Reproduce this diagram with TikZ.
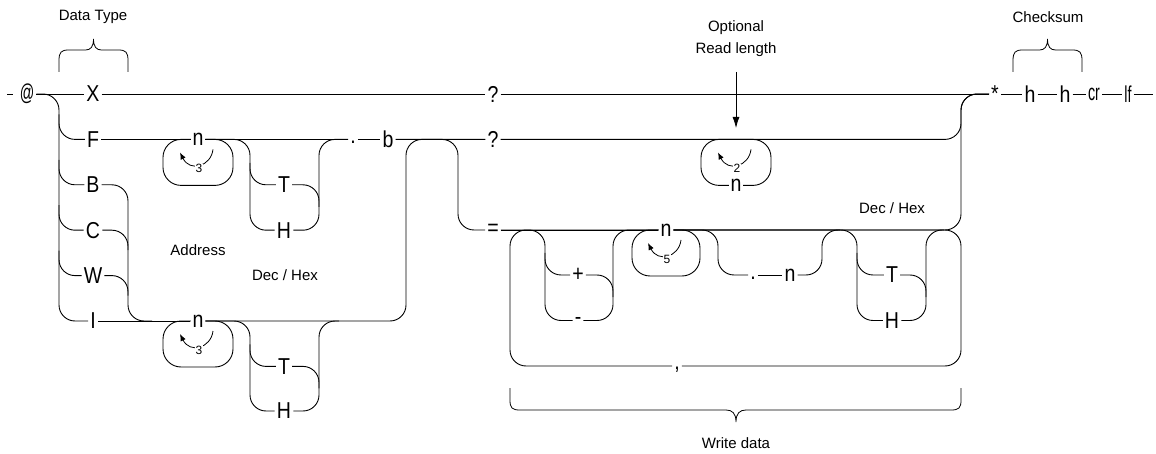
\documentclass[tikz,border=0pt]{standalone}
\usepackage{fontspec}
\setmainfont{Liberation Sans}
\newfontfamily\railfont[FakeStretch=0.85]{Liberation Sans}
\newfontfamily\railnarrow[FakeStretch=0.62]{Liberation Sans}
\usetikzlibrary{arrows.meta,calc}

% repeat arrow drawn inside a loop: centre x, top y, count, node name
\newcommand\reparrow[4]{%
  \draw[rep] (#1+15,#2+10) .. controls (#1+13,#2+27) and (#1-8,#2+33) .. (#1-18,#2+13);
  \node[cnt] (#4) at (#1+1,#2+29) {#3};}
% curly brace opening downwards: left x, right x, bottom y
\newcommand\topbrace[3]{%
  \draw[brace] (#1,#3) -- (#1,#3-11) .. controls (#1,#3-20) and (#1+2,#3-22) .. (#1+10,#3-22)
    -- ({(#1+#2)/2-8},#3-22) .. controls ({(#1+#2)/2-3},#3-22) and ({(#1+#2)/2},#3-25) .. ({(#1+#2)/2},#3-33)
    .. controls ({(#1+#2)/2},#3-25) and ({(#1+#2)/2+3},#3-22) .. ({(#1+#2)/2+8},#3-22)
    -- (#2-10,#3-22) .. controls (#2-2,#3-22) and (#2,#3-20) .. (#2,#3-11) -- (#2,#3);}

\begin{document}
\begin{tikzpicture}[x=1pt,y=-1pt,
  track/.style={line width=0.9pt, rounded corners=16pt},
  loopbox/.style={line width=0.9pt, rounded corners=18pt},
  term/.style={font=\railfont\fontsize{23}{25}\selectfont, fill=white, inner sep=2pt},
  narrow/.style={font=\railnarrow\fontsize{23}{25}\selectfont},
  low/.style={text height=9pt},
  note/.style={font=\fontsize{15}{22}\selectfont, inner sep=1pt, align=center},
  rep/.style={line width=0.8pt, -{Latex[length=7pt,width=5.5pt]}},
  cnt/.style={font=\fontsize{12}{13}\selectfont, fill=white, inner sep=0.6pt},
  brace/.style={line width=0.8pt},
]
\useasboundingbox (0,0) rectangle (1156,454);

% vertical track positions
\coordinate (lv) at (59,0);   \coordinate (rv) at (128,0);
\coordinate (a1) at (250,0);  \coordinate (a2) at (319,0);
\coordinate (c406) at (406,0); \coordinate (c458) at (458,0);
\coordinate (c510) at (510,0); \coordinate (c545) at (545,0);
\coordinate (c613) at (613,0); \coordinate (c718) at (718,0);
\coordinate (c822) at (822,0); \coordinate (c857) at (857,0);
\coordinate (c926) at (926,0); \coordinate (c961) at (961,0);

% loops (drawn first so the terminals cover them)
\draw[loopbox] (163,139.4) rectangle (233,185.4);
\draw[loopbox] (163,321) rectangle (233,367);
\draw[loopbox] (632,230) rectangle (700,276);
\draw[loopbox] (701,139.4) rectangle (771,185.4);
\reparrow{198}{139.4}{3}{kA}
\reparrow{198}{321}{3}{kB}
\reparrow{666}{230}{5}{kC}
\reparrow{736}{139.4}{2}{kR}

% terminals
\node[term,narrow] (at) at (27,94) {@};
\node[term] (X) at (93,94) {X};
\node[term] (F) at (93,139.4) {F};
\node[term] (B) at (93,184.8) {B};
\node[term] (C) at (93,230.2) {C};
\node[term] (W) at (93,275.6) {W};
\node[term] (I) at (93,321) {I};
\node[term] (nA) at (198,139.4) {n};
\node[term] (nB) at (198,321) {n};
\node[term] (TA) at (284,184.8) {T};
\node[term] (HA) at (284,230.2) {H};
\node[term] (TB) at (284,366.4) {T};
\node[term] (HB) at (284,411) {H};
\node[term,low] (dot) at (353,139.4) {.};
\node[term] (b) at (388,139.4) {b};
\node[term] (q1) at (493,94) {?};
\node[term] (q2) at (493,139.4) {?};
\node[term] (eq) at (493,230) {=};
\node[term] (nR) at (736,185.4) {n};
\node[term] (plus) at (578,275) {+};
\node[term] (minus) at (578,320.5) {-};
\node[term] (nC) at (666,230) {n};
\node[term,low] (dot2) at (753,275) {.};
\node[term] (n2) at (790,275) {n};
\node[term] (TC) at (892,275) {T};
\node[term] (HC) at (892,320.5) {H};
\node[term,low] (comma) at (677,366) {,};
\node[term] (star) at (995,94) {*};
\node[term] (h1) at (1030,94) {h};
\node[term] (h2) at (1065,94) {h};
\node[term,narrow] (cr) at (1094,94) {cr};
\node[term,narrow] (lf) at (1128,94) {lf};
\coordinate (s0) at (7,94); \coordinate (s1) at (13,94);
\coordinate (fin) at (1153,94);

% top line
\draw[track] (s0) -- (s1);
\draw[track] (at) -- (X);
\draw[track] (X) -- (q1);
\draw[track] (q1) -- (star);
\draw[track] (star) -- (h1);
\draw[track] (h1) -- (h2);
\draw[track] (h2) -- (cr);
\draw[track] (cr) -- (lf);
\draw[track] (lf) -- (fin);

% data type choice
\draw[track] (at.east) -| (lv |- I) -- (I);
\foreach \t in {F,B,C,W}
  \draw[track] ($(lv |- \t)+(0,-25)$) |- (\t);
\draw[track] (B.east) -| (rv |- I) -- ++(24,0);
\draw[track] (C.east) -| ($(rv |- C)+(0,20)$);
\draw[track] (W.east) -| ($(rv |- W)+(0,20)$);

% address on the F row
\draw[track] (F) -- (nA);
\draw[track] (nA) -- (dot);
\draw[track] (dot) -- (b);
\draw[track] (nA.east) -| (a1 |- HA) -- (HA);
\draw[track] ($(a1 |- TA)+(0,-22)$) |- (TA);
\draw[track] (HA.east) -| (a2 |- nA) -- (dot);
\draw[track] (TA.east) -| ($(a2 |- TA)+(0,22)$);

% address on the I row
\draw[track] (I) -- (nB);
\draw[track] (nB.east) -| (a1 |- HB) -- (HB);
\draw[track] ($(a1 |- TB)+(0,-22)$) |- (TB);
\draw[track] (HB.east) -| (a2 |- nB) -- ($(a2 |- nB)+(20,0)$);
\draw[track] (TB.east) -| ($(a2 |- TB)+(0,22)$);
\draw[track] (nB.east) -| (c406 |- b) -- (q2);

% read or write
\draw[track] (b) -- (q2);
\draw[track] (b.east) -| (c458 |- eq) -- (eq);
\draw[track] (q2.east) -| (c961 |- star) -- (star);

% write data
\draw[track] (eq) -- (nC);
\draw[track] (eq.east) -| (c545 |- minus) -- (minus);
\draw[track] ($(c545 |- plus)+(0,-22)$) |- (plus);
\draw[track] (minus.east) -| (c613 |- eq) -- (nC);
\draw[track] (plus.east) -| ($(c613 |- plus)+(0,22)$);
\draw[track] (nC.east) -| (c718 |- dot2) -- (dot2);
\draw[track] (dot2) -- (n2);
\draw[track] (n2.east) -| (c822 |- eq) -- ($(c822 |- eq)+(18,0)$);
\draw[track] (nC.east) -| (c857 |- HC) -- (HC);
\draw[track] ($(c857 |- TC)+(0,-22)$) |- (TC);
\draw[track] (HC.east) -| (c926 |- eq) -- ($(c926 |- eq)+(18,0)$);
\draw[track] (TC.east) -| ($(c926 |- TC)+(0,22)$);
\draw[track] (nC.east) -| (c961 |- star) -- (star);
\draw[track] (nC.east) -| (c961 |- comma) -- (comma);
\draw[track] (comma.west) -| (c510 |- eq) -- (nC);

% annotations
\node[note] (dtype) at (93,17) {Data Type};
\topbrace{59}{128}{72}
\node[note] (csum) at (1048,17) {Checksum};
\topbrace{1013}{1082}{72}
\node[note] (opt) at (736,39) {Optional\\Read length};
\coordinate (optA) at (736,72); \coordinate (optB) at (736,128);
\draw[line width=0.8pt, -{Latex[length=11pt,width=7pt]}] (optA) -- (optB);
\node[note] (addr) at (198,250) {Address};
\node[note] (dh1) at (285,275) {Dec / Hex};
\node[note] (dh2) at (892,208) {Dec / Hex};
\draw[brace] (510,388) -- (510,400) .. controls (510,408) and (512,410) .. (520,410)
  -- (726,410) .. controls (732,410) and (736,413) .. (736,422)
  .. controls (736,413) and (740,410) .. (746,410)
  -- (951,410) .. controls (959,410) and (961,408) .. (961,400) -- (961,388);
\node[note] (wdata) at (736,443) {Write data};
\end{tikzpicture}
\end{document}
